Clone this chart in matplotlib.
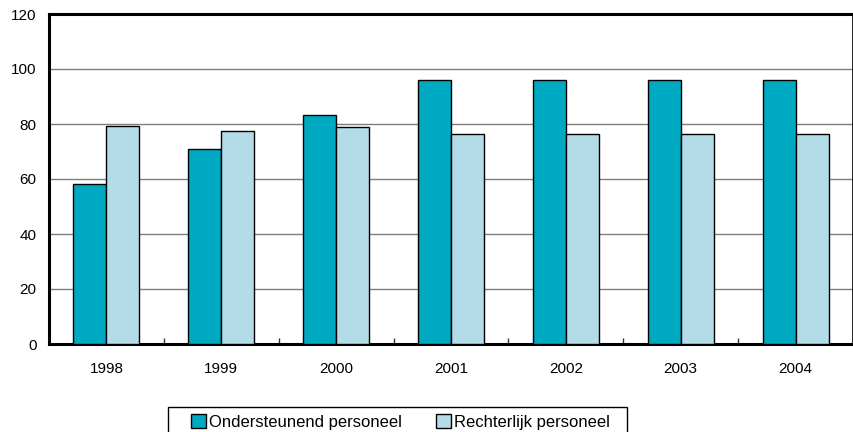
import matplotlib
matplotlib.use("Agg")
import matplotlib.pyplot as plt
from matplotlib.patches import Rectangle
import numpy as np

plt.rcParams['font.family'] = ['Liberation Sans', 'DejaVu Sans']

years = ["1998", "1999", "2000", "2001", "2002", "2003", "2004"]
ondersteunend = [58.3, 70.9, 83.3, 96, 96, 96, 96]
rechterlijk = [79.3, 77.3, 78.9, 76.2, 76.2, 76.2, 76.2]
series_labels = ["Ondersteunend personeel", "Rechterlijk personeel"]
yticks = [0, 20, 40, 60, 80, 100, 120]

dark = "#00A9C2"
light = "#B3DCE8"

fig = plt.figure(figsize=(8.54, 4.32), dpi=100)
ax = fig.add_axes([49/854, 1 - 344/432, 804/854, 330/432])

x = np.arange(len(years))
w = 0.287
ax.bar(x - w/2, ondersteunend, w, color=dark, edgecolor="black", linewidth=1.0,
       label=series_labels[0], zorder=3)
ax.bar(x + w/2, rechterlijk, w, color=light, edgecolor="black", linewidth=1.0,
       label=series_labels[1], zorder=3)

ax.set_xlim(-0.5, len(years) - 0.5)
ax.set_ylim(0, 120)
ax.set_yticks(yticks)
ax.set_yticklabels([str(v) for v in yticks], fontsize=11)
ax.set_xticks(x)
ax.set_xticklabels(years, fontsize=11)
ax.tick_params(axis='x', which='major', length=0, pad=13)
ax.tick_params(axis='y', length=0, pad=9)
ax.set_xticks(np.arange(0.5, len(years) - 0.5, 1), minor=True)
ax.tick_params(axis='x', which='minor', direction='in', length=4, width=1, color='#333333')

ax.yaxis.grid(True, color="#7f7f7f", linewidth=1.0, zorder=0)
ax.set_axisbelow(True)

for s in ['left', 'top', 'bottom']:
    ax.spines[s].set_linewidth(2.2)
    ax.spines[s].set_color('black')
ax.spines['right'].set_linewidth(1.2)
ax.spines['right'].set_color('black')

fs = 12.0
px = fs * 100 / 72
leg = fig.legend(loc='upper left', bbox_to_anchor=(191/854, 1 - 414/432), ncol=2,
                 fontsize=fs, frameon=False,
                 handlelength=15/px, handleheight=15/px, handletextpad=3/px,
                 columnspacing=34/px, borderpad=0, borderaxespad=0)
fig.add_artist(Rectangle((168/854, -0.1), (627 - 168)/854, (1 - 407/432) + 0.1,
                         transform=fig.transFigure, fill=False,
                         edgecolor='black', linewidth=1.0))

fig.savefig("out.png", dpi=100)
